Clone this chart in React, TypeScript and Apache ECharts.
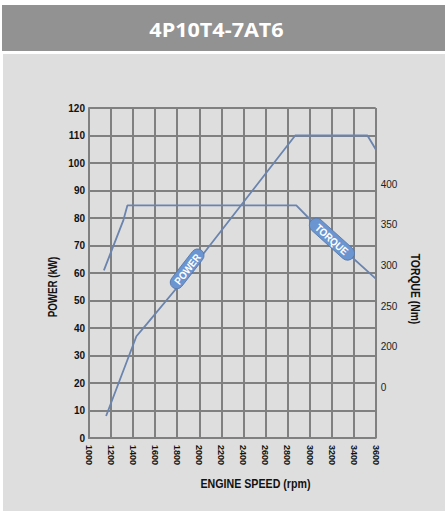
import React, { useEffect, useRef } from "react";
import * as echarts from "echarts";

// ---- data ----
const titleText = "4P10T4-7AT6";
const rpmMin = 1000;
const rpmMax = 3600;
const rpmStep = 200;

const powerRpm = [1155, 1430, 1525, 1805, 2870, 3525, 3600];
const powerKw = [8, 37, 41.5, 55, 110, 110, 105];

const torqueRpm = [1135, 1312, 1348, 2880, 3003, 3600];
const torqueNm = [294, 356, 374, 374, 357, 284];

const powerAxisMin = 0;
const powerAxisMax = 120;
const powerAxisStep = 10;

const torqueAxisMin = 87.8;
const torqueAxisMax = 493.9;
const torqueTickValues = [150, 200, 250, 300, 350, 400];
const torqueTickLabels = ["0", "200", "250", "300", "350", "400"];

const powerName = "POWER (kW)";
const torqueName = "TORQUE (Nm)";
const speedName = "ENGINE SPEED (rpm)";
const powerTag = "POWER";
const torqueTag = "TORQUE";
// where the tags sit on their curves (rpm, value) and segment used for angle
const powerTagAt = [1890, 61.5];
const powerTagSeg = [[1805, 55], [2870, 110]];
const torqueTagAt = [3203, 332.5];
const torqueTagSeg = [[3003, 357], [3600, 284]];

const FONT = "'Liberation Sans', Arial, sans-serif";
const GRID_COLOR = "#808080";
const LINE_COLOR = "#6a84ae";
const PILL_COLOR = "#6b95d0";

function pill(id: string, c: number[], angle: number, w: number, h: number, label: string) {
  return {
    type: "group",
    id,
    x: c[0],
    y: c[1],
    rotation: angle,
    z: 100,
    children: [
      {
        type: "rect",
        z: 100,
        shape: { x: -w / 2, y: -h / 2, width: w, height: h, r: h / 2 },
        style: { fill: PILL_COLOR, stroke: "#5577a8", lineWidth: 0.8 },
      },
      {
        type: "text",
        z: 101,
        scaleX: 0.9,
        style: {
          text: label,
          x: 0,
          y: 0.5,
          align: "center",
          verticalAlign: "middle",
          fill: "#ffffff",
          fontSize: 10.5,
          fontWeight: "bold",
          fontFamily: FONT,
        },
      },
    ],
  };
}

function axisName(id: string, text: string, x: number, y: number, rotation: number, size: number, sx: number) {
  return {
    type: "text",
    id,
    z: 10,
    x,
    y,
    rotation,
    scaleX: sx,
    style: {
      text,
      x: 0,
      y: 0,
      align: "center",
      verticalAlign: "middle",
      fill: "#111",
      fontSize: size,
      fontWeight: "bold",
      fontFamily: FONT,
    },
  };
}

export default function App() {
  const ref = useRef<HTMLDivElement>(null);
  useEffect(() => {
    document.body.style.margin = "0";
    const chart = echarts.init(ref.current!, null, { renderer: "svg" });
    const baseGraphics: any[] = [
      {
        type: "rect",
        id: "header",
        z: -100,
        silent: true,
        shape: { x: 2, y: 5, width: 443, height: 46 },
        style: { fill: "#929292" },
      },
      {
        type: "rect",
        id: "panel",
        z: -100,
        silent: true,
        shape: { x: 3, y: 54, width: 442, height: 457 },
        style: { fill: "#dedede" },
      },
      {
        type: "text",
        id: "title",
        z: 10,
        x: 216.5,
        y: 29.5,
        scaleX: 1.08,
        style: {
          text: titleText,
          x: 0,
          y: 0,
          align: "center",
          verticalAlign: "middle",
          fill: "#ffffff",
          fontSize: 20,
          fontWeight: "bold",
          fontFamily: "'Open Sans', 'Noto Sans', sans-serif",
        },
      },
      axisName("pname", powerName, 53, 287, Math.PI / 2, 12.5, 0.78),
      axisName("tname", torqueName, 415, 289, -Math.PI / 2, 12.5, 0.83),
      axisName("sname", speedName, 255.5, 484, 0, 13, 0.82),
    ];

    const option: any = {
      animation: false,
      backgroundColor: "#ffffff",
      grid: { left: 89, right: 69.3, top: 108, bottom: 73, containLabel: false },
      xAxis: {
        type: "value",
        min: rpmMin,
        max: rpmMax,
        interval: rpmStep,
        axisLine: { show: true, lineStyle: { color: GRID_COLOR, width: 2 } },
        axisTick: { show: false },
        splitLine: { show: true, lineStyle: { color: GRID_COLOR, width: 2 } },
        axisLabel: {
          rotate: -90,
          margin: 7,
          color: "#111",
          fontSize: 9,
          fontWeight: "bold",
          fontFamily: FONT,
          showMinLabel: true,
          showMaxLabel: true,
          formatter: (v: number) => String(v),
        },
      },
      yAxis: [
        {
          type: "value",
          min: powerAxisMin,
          max: powerAxisMax,
          interval: powerAxisStep,
          position: "left",
          axisLine: { show: true, lineStyle: { color: GRID_COLOR, width: 2 } },
          axisTick: { show: false },
          splitLine: { show: true, lineStyle: { color: GRID_COLOR, width: 2 } },
          axisLabel: {
            margin: 4,
            color: "#111",
            fontSize: 10,
            fontWeight: "bold",
            fontFamily: FONT,
            formatter: (v: number) => String(v),
          },
        },
        {
          type: "value",
          min: torqueAxisMin,
          max: torqueAxisMax,
          position: "right",
          axisLine: { show: false },
          axisTick: { show: false },
          splitLine: { show: false },
          axisLabel: {
            margin: 5,
            color: "#222",
            fontSize: 10,
            fontFamily: FONT,
            customValues: torqueTickValues,
            formatter: (v: number) => {
              const i = torqueTickValues.indexOf(v);
              return i >= 0 ? torqueTickLabels[i] : "";
            },
          },
        },
      ],
      series: [
        {
          name: powerTag,
          type: "line",
          yAxisIndex: 0,
          showSymbol: false,
          symbol: "none",
          z: 5,
          lineStyle: { color: LINE_COLOR, width: 1.8 },
          data: powerRpm.map((r, i) => [r, powerKw[i]]),
        },
        {
          name: torqueTag,
          type: "line",
          yAxisIndex: 1,
          showSymbol: false,
          symbol: "none",
          z: 5,
          lineStyle: { color: LINE_COLOR, width: 1.8 },
          data: torqueRpm.map((r, i) => [r, torqueNm[i]]),
        },
      ],
      graphic: { elements: baseGraphics },
    };
    chart.setOption(option);

    const px = (pt: number[], axis: number) =>
      chart.convertToPixel({ xAxisIndex: 0, yAxisIndex: axis }, pt) as number[];
    const ang = (seg: number[][], axis: number) => {
      const a = px(seg[0], axis);
      const b = px(seg[1], axis);
      return Math.atan2(-(b[1] - a[1]), b[0] - a[0]);
    };
    const pills = [
      pill("powerTag", px(powerTagAt, 0), ang(powerTagSeg, 0), 47, 13, powerTag),
      pill("torqueTag", px(torqueTagAt, 1), ang(torqueTagSeg, 1), 56, 14, torqueTag),
    ];
    chart.setOption({ graphic: { elements: [...baseGraphics, ...pills] } });

    return () => chart.dispose();
  }, []);
  return <div ref={ref} style={{ width: 445, height: 511 }} />;
}
